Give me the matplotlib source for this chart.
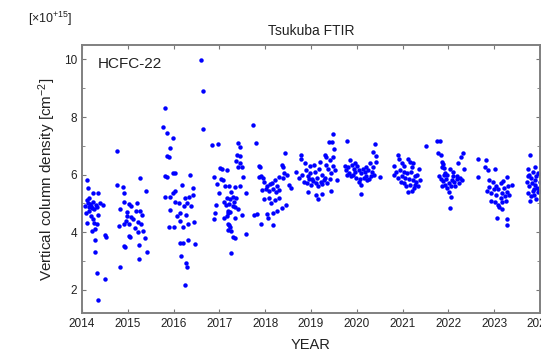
import matplotlib
matplotlib.use("Agg")
import matplotlib.pyplot as plt
from matplotlib.ticker import MultipleLocator

plt.rcParams["font.family"] = ["Liberation Sans", "DejaVu Sans"]
plt.rcParams["mathtext.default"] = "regular"

# decimal year / column (x1e15), one pair of lists per season
t14 = [2014.12, 2014.14, 2014.24, 2014.36, 2014.10, 2014.13, 2014.17, 2014.19, 2014.15, 2014.21,
       2014.27, 2014.30, 2014.33, 2014.46, 2014.09, 2014.16, 2014.19, 2014.23, 2014.12, 2014.27,
       2014.32, 2014.22, 2014.28, 2014.29, 2014.50, 2014.52, 2014.28, 2014.32, 2014.50, 2014.36,
       2014.16, 2014.25, 2014.06, 2014.39, 2014.35]
v14 = [5.81, 5.53, 5.35, 5.38, 5.12, 5.02, 4.98, 4.92, 4.89, 4.83,
       4.80, 4.95, 4.88, 4.95, 4.66, 4.75, 4.55, 4.45, 4.31, 4.31,
       4.28, 4.05, 4.10, 3.74, 3.91, 3.85, 3.30, 2.58, 2.38, 1.66,
       5.20, 5.05, 4.90, 5.00, 4.60]

t15 = [2014.77, 2014.77, 2014.89, 2014.92, 2015.27, 2015.40, 2014.92, 2015.03, 2015.20, 2014.84,
       2014.99, 2015.18, 2015.26, 2014.98, 2015.08, 2014.92, 2015.03, 2015.23, 2015.29, 2014.81,
       2015.03, 2015.05, 2015.23, 2015.34, 2015.38, 2014.91, 2014.93, 2015.24, 2015.41, 2014.83,
       2015.25, 2015.11, 2015.06, 2015.15, 2015.31, 2014.95]
v15 = [6.83, 5.64, 5.56, 5.35, 5.87, 5.44, 5.06, 4.98, 5.02, 4.80,
       4.72, 4.75, 4.75, 4.57, 4.52, 4.29, 4.29, 4.35, 4.29, 4.22,
       3.87, 3.82, 4.00, 4.05, 3.81, 3.51, 3.48, 3.56, 3.30, 2.80,
       3.08, 4.45, 4.90, 4.15, 4.60, 4.40]

t16 = [2016.60, 2016.65, 2016.65, 2015.81, 2015.77, 2015.86, 2015.98, 2015.92, 2015.86, 2015.89,
       2015.81, 2015.86, 2015.98, 2016.04, 2015.81, 2015.92, 2015.98, 2016.02, 2016.11, 2015.92,
       2016.13, 2016.23, 2016.25, 2016.30, 2016.34, 2016.36, 2016.43, 2016.43, 2015.89, 2016.01,
       2016.21, 2016.13, 2016.28, 2016.32, 2016.13, 2016.20, 2016.31, 2016.46, 2016.17, 2016.27,
       2016.30, 2016.25, 2016.45, 2016.19, 2016.04, 2016.08, 2016.37]
v16 = [9.97, 8.90, 7.58, 8.33, 7.66, 7.44, 7.29, 6.91, 6.64, 6.60,
       5.95, 5.92, 6.05, 6.05, 5.24, 5.24, 5.35, 5.06, 5.00, 4.78,
       4.67, 4.91, 5.20, 5.00, 5.22, 5.99, 5.54, 5.30, 4.20, 4.20,
       4.20, 4.40, 4.60, 4.30, 3.62, 3.62, 3.74, 3.60, 3.18, 2.93,
       2.78, 2.18, 4.35, 5.64, 5.45, 4.55, 4.90]

t17 = [2016.84, 2016.96, 2017.41, 2017.44, 2017.74, 2017.79, 2017.39, 2017.45, 2017.37, 2017.44,
       2017.41, 2017.49, 2017.02, 2017.05, 2017.17, 2016.89, 2017.52, 2017.04, 2017.08, 2016.95,
       2017.13, 2017.21, 2017.34, 2017.44, 2017.25, 2017.59, 2017.17, 2017.23, 2017.29, 2017.37,
       2017.14, 2017.21, 2017.29, 2017.34, 2017.41, 2016.93, 2017.18, 2017.19, 2017.24, 2016.90,
       2017.11, 2017.16, 2017.34, 2016.88, 2017.18, 2017.21, 2017.24, 2017.18, 2017.25, 2017.29,
       2017.34, 2017.59, 2017.26, 2017.76, 2017.09, 2017.31, 2017.00, 2017.49]
v17 = [7.02, 7.05, 7.09, 6.96, 7.72, 7.10, 6.70, 6.65, 6.47, 6.40,
       6.28, 6.25, 6.22, 6.20, 6.15, 5.93, 5.92, 5.85, 5.80, 5.67,
       5.60, 5.62, 5.58, 5.60, 5.40, 5.36, 5.20, 5.15, 5.22, 5.20,
       4.95, 4.98, 4.92, 4.88, 4.82, 4.95, 4.75, 4.68, 4.72, 4.68,
       4.50, 4.55, 4.48, 4.45, 4.30, 4.25, 4.20, 4.08, 4.05, 3.84,
       3.80, 3.94, 3.29, 4.60, 5.05, 5.05, 5.35, 4.60]

t18 = [2017.86, 2017.86, 2018.43, 2017.88, 2018.36, 2018.38, 2017.91, 2017.96, 2018.10, 2018.03,
       2018.14, 2018.31, 2018.38, 2017.94, 2018.01, 2018.08, 2018.16, 2018.24, 2018.31, 2017.98,
       2018.08, 2018.21, 2018.31, 2018.46, 2018.36, 2018.04, 2018.16, 2018.06, 2018.17, 2017.82,
       2017.91, 2018.26, 2018.41, 2018.48, 2018.51, 2018.56, 2018.21, 2017.98, 2018.13, 2018.26]
v18 = [6.29, 5.92, 6.74, 6.27, 6.33, 6.25, 5.95, 5.90, 5.67, 5.62,
       5.70, 5.92, 5.90, 5.47, 5.50, 5.45, 5.52, 5.40, 5.48, 5.15,
       5.20, 5.12, 5.18, 4.95, 4.84, 4.63, 4.66, 4.50, 4.26, 4.63,
       4.30, 5.60, 6.05, 6.00, 5.65, 5.55, 5.80, 5.75, 5.00, 4.75]

t19 = [2018.78, 2018.78, 2019.30, 2019.33, 2019.47, 2019.40, 2019.46, 2019.51, 2019.49, 2019.41,
       2018.68, 2018.73, 2018.81, 2018.88, 2018.93, 2018.98, 2019.03, 2019.08, 2019.13, 2019.18,
       2019.23, 2019.28, 2019.33, 2019.38, 2019.43, 2018.85, 2018.91, 2018.95, 2019.01, 2019.05,
       2019.11, 2019.16, 2019.21, 2019.25, 2019.31, 2019.35, 2019.41, 2019.48, 2018.93, 2019.10,
       2019.15, 2019.25, 2019.43, 2019.53, 2019.57, 2018.86, 2018.97, 2019.07, 2019.19]
v19 = [6.70, 6.55, 6.68, 6.60, 7.41, 7.13, 7.13, 6.90, 6.62, 6.50,
       6.10, 5.90, 6.00, 6.15, 5.95, 6.05, 5.85, 6.10, 5.90, 6.20,
       6.00, 5.80, 6.35, 6.20, 6.05, 5.75, 5.70, 5.85, 5.65, 5.78,
       5.70, 5.60, 5.75, 5.68, 5.90, 5.72, 5.85, 6.30, 5.40, 5.30,
       5.15, 5.32, 5.45, 6.15, 5.80, 6.40, 6.30, 6.35, 6.45]

t20 = [2019.78, 2020.39, 2020.35, 2020.42, 2020.35, 2019.85, 2019.74, 2019.77, 2019.81, 2019.84,
       2019.89, 2019.93, 2019.97, 2020.01, 2020.05, 2020.09, 2020.13, 2020.17, 2020.21, 2020.25,
       2020.29, 2020.33, 2019.87, 2019.91, 2019.99, 2020.07, 2020.15, 2020.23, 2020.27, 2020.31,
       2020.10, 2020.05, 2020.09, 2020.51, 2020.41, 2020.37, 2020.19, 2019.97, 2019.79]
v20 = [7.17, 7.06, 6.80, 6.65, 6.25, 6.50, 6.30, 6.15, 6.25, 6.05,
       6.35, 6.20, 6.10, 6.30, 6.15, 6.05, 6.20, 6.10, 5.95, 6.15,
       6.40, 6.10, 5.95, 6.00, 5.90, 5.85, 5.90, 5.80, 5.85, 5.95,
       5.65, 5.75, 5.33, 5.92, 6.45, 6.00, 6.25, 6.40, 6.00]

t21 = [2020.89, 2020.92, 2020.81, 2020.81, 2020.98, 2021.03, 2021.12, 2021.16, 2021.23, 2021.50,
       2020.94, 2020.98, 2021.02, 2021.06, 2021.10, 2021.14, 2021.18, 2021.22, 2021.26, 2021.30,
       2021.04, 2021.08, 2021.16, 2021.24, 2021.28, 2021.12, 2021.20, 2021.32, 2021.36, 2021.38,
       2020.86, 2020.90, 2020.96, 2021.34, 2021.20]
v21 = [6.68, 6.55, 6.30, 6.00, 6.40, 6.30, 6.55, 6.45, 6.40, 6.99,
       6.15, 5.95, 6.10, 5.90, 6.05, 5.85, 6.10, 5.80, 5.95, 5.75,
       5.70, 5.60, 5.65, 5.55, 5.65, 5.40, 5.45, 6.00, 6.20, 5.80,
       6.10, 5.90, 5.75, 5.60, 6.25]

t22 = [2021.76, 2021.81, 2021.78, 2021.83, 2021.87, 2021.89, 2021.85, 2021.91, 2022.03, 2022.11,
       2021.93, 2021.98, 2022.21, 2022.28, 2022.31, 2021.79, 2021.83, 2021.88, 2021.95, 2022.01,
       2022.08, 2022.13, 2022.19, 2022.25, 2022.29, 2021.85, 2021.93, 2021.98, 2022.05, 2022.15,
       2022.01, 2022.06, 2022.03, 2022.18, 2022.35, 2022.23, 2021.91, 2022.09]
v22 = [7.16, 7.16, 6.75, 6.68, 6.45, 6.38, 6.25, 6.22, 6.20, 6.10,
       6.05, 6.00, 6.40, 6.60, 6.75, 5.95, 5.85, 5.78, 5.85, 5.72,
       5.80, 5.75, 5.85, 5.90, 5.80, 5.60, 5.65, 5.55, 5.62, 5.60,
       5.40, 5.22, 4.84, 5.95, 6.20, 5.70, 6.00, 5.95]

t23 = [2022.65, 2022.83, 2022.86, 2022.65, 2022.89, 2022.88, 2022.85, 2023.01, 2022.97, 2022.94,
       2023.05, 2023.14, 2023.19, 2023.27, 2023.31, 2023.29, 2023.17, 2023.14, 2023.17, 2023.09,
       2023.11, 2023.16, 2023.25, 2023.33, 2023.07, 2023.27, 2023.27, 2023.09, 2022.99, 2023.21,
       2022.93, 2023.04, 2023.24, 2023.39, 2022.79, 2023.01]
v23 = [6.54, 6.50, 6.16, 5.92, 5.80, 5.57, 5.45, 6.20, 5.75, 5.35,
       5.28, 5.70, 5.78, 5.92, 5.60, 5.40, 5.35, 5.20, 5.05, 4.95,
       4.88, 4.82, 5.10, 5.30, 4.50, 4.46, 4.27, 5.50, 5.50, 5.55,
       5.10, 5.60, 5.25, 5.65, 6.25, 5.05]

t24 = [2023.78, 2023.74, 2023.76, 2023.80, 2023.84, 2023.88, 2023.92, 2023.96, 2023.72, 2023.76,
       2023.82, 2023.86, 2023.90, 2023.94, 2023.98, 2023.74, 2023.80, 2023.86, 2023.92, 2023.96,
       2023.78, 2024.00, 2023.84, 2023.90, 2023.73]
v24 = [6.68, 6.20, 6.00, 5.90, 6.10, 5.80, 5.95, 6.05, 5.75, 5.60,
       5.70, 5.50, 5.65, 5.55, 5.45, 5.35, 5.25, 5.30, 5.15, 5.40,
       5.10, 5.75, 5.45, 6.25, 5.95]

years = list(range(2014, 2025))

t_all = t14 + t15 + t16 + t17 + t18 + t19 + t20 + t21 + t22 + t23 + t24
v_all = v14 + v15 + v16 + v17 + v18 + v19 + v20 + v21 + v22 + v23 + v24

txt = "#222222"
fig = plt.figure(figsize=(5.41, 3.53), dpi=100)
ax = fig.add_axes([82/541, 40/353, 458/541, 268/353])
ax.plot(t_all, v_all, "o", color="#0000ff", markersize=3.2, markeredgewidth=0)

ax.set_xlim(2014, 2024)
ax.set_ylim(1.2, 10.5)
ax.set_xticks(years)
ax.set_xticklabels([str(y) for y in years])
ax.set_yticks([2, 4, 6, 8, 10])
ax.yaxis.set_minor_locator(MultipleLocator(1))
ax.tick_params(which="both", direction="in", top=True, right=True,
               colors="#777777", labelcolor=txt, labelsize=8.5, length=3)
ax.tick_params(which="minor", length=2)
for s in ax.spines.values():
    s.set_color("#808080")
    s.set_linewidth(1.4)

ax.set_xlabel("YEAR", fontsize=10.5, color=txt, labelpad=6)
ax.set_ylabel("Vertical column density [cm$^{-2}$]", fontsize=11, color=txt, labelpad=4)
ax.set_title("Tsukuba FTIR", fontsize=10, color=txt, pad=7)
ax.text(0.035, 0.955, "HCFC-22", transform=ax.transAxes, fontsize=11, color=txt,
        ha="left", va="top")
fig.text(28/541, 1 - 19/353, r"[$\times$10$^{+15}$]", fontsize=9, color=txt,
         ha="left", va="center")

fig.savefig("out.png", dpi=100)
